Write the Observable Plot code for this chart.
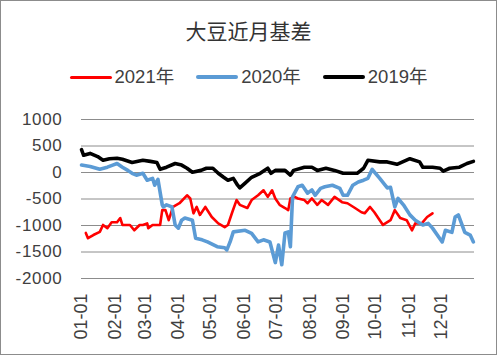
<!DOCTYPE html>
<html>
<head>
<meta charset="utf-8">
<script src="https://cdn.jsdelivr.net/npm/d3@7"></script>
<script src="https://cdn.jsdelivr.net/npm/@observablehq/plot@0.6"></script>
<style>
  html, body { margin: 0; padding: 0; background: #fff; }
  #wrap { position: relative; width: 497px; height: 355px; overflow: hidden; background: #fff; }
  #frame { position: absolute; left: 0; top: 0; width: 497px; height: 355px; box-sizing: border-box; border: 1px solid #8c8c8c; pointer-events: none; }
  #title { position: absolute; left: 0; top: 16px; width: 497px; text-align: center; font-family: "Noto Sans CJK SC", sans-serif; font-size: 21px; color: #333; line-height: 28px; }
  #legend { position: absolute; left: 0; top: 64px; width: 497px; display: flex; justify-content: center; gap: 22px; font-family: "Liberation Sans", "Noto Sans CJK SC", sans-serif; font-size: 18.5px; color: #404040; line-height: 26px; }
  .item { display: flex; align-items: center; }
  .sw { display: inline-block; width: 42px; margin-right: 3px; border-radius: 2px; }
  #chart { position: absolute; left: 0; top: 100px; }
  #chart g[aria-label="y-axis tick label"] text { letter-spacing: 0.7px; }
</style>
</head>
<body>
<div id="wrap">
  <div id="title">大豆近月基差</div>
  <div id="legend"></div>
  <div id="chart"></div>
  <div id="frame"></div>
</div>
<script>
const seriesNames = ["2021年", "2020年", "2019年"];
const seriesColors = ["#ff0000", "#5b9bd5", "#000000"];
const yTicks = [-2000, -1500, -1000, -500, 0, 500, 1000];

const dates2021 = ["01-05","01-07","01-12","01-18","01-21","01-25","01-29","02-03","02-06","02-08","02-15","02-19","02-24","02-27","03-03","03-04","03-08","03-15","03-17","03-20","03-23","03-27","04-02","04-09","04-12","04-15","04-18","04-21","04-26","05-02","05-08","05-14","05-17","05-21","05-25","05-28","06-04","06-08","06-14","06-19","06-23","06-27","06-30","07-04","07-09","07-12","07-14","07-18","07-21","07-27","07-30","08-03","08-08","08-12","08-18","08-24","08-31","09-05","09-12","09-18","09-21","09-26","09-30","10-05","10-08","10-15","10-19","10-24","10-30","11-04","11-07","11-13","11-18","11-23"];
const values2021 = [-1140,-1240,-1180,-1120,-990,-1050,-940,-940,-860,-990,-990,-1090,-990,-990,-960,-1050,-990,-990,-710,-710,-900,-650,-580,-430,-490,-770,-650,-800,-650,-840,-960,-1030,-990,-750,-520,-610,-670,-520,-430,-335,-460,-335,-490,-610,-670,-710,-490,-460,-490,-520,-580,-490,-610,-520,-610,-460,-560,-580,-670,-750,-770,-650,-750,-900,-990,-900,-710,-860,-900,-1090,-960,-960,-840,-770];

const dates2020 = ["01-01","01-09","01-18","01-25","01-30","02-03","02-08","02-13","02-17","02-21","02-27","03-03","03-08","03-10","03-13","03-17","03-18","03-21","03-26","03-29","04-01","04-04","04-07","04-14","04-17","04-23","04-28","05-07","05-14","05-16","05-19","05-22","06-02","06-08","06-14","06-19","06-25","06-30","07-03","07-06","07-09","07-12","07-14","07-16","07-21","07-25","07-30","08-03","08-06","08-11","08-15","08-22","08-29","09-01","09-05","09-10","09-15","09-20","09-24","09-28","10-01","10-05","10-12","10-15","10-19","10-22","10-27","11-02","11-07","11-14","11-19","11-23","12-02","12-05","12-11","12-14","12-17","12-23","12-28","12-31"];
const values2020 = [140,115,60,100,140,170,100,40,-15,-50,-15,-145,-110,-240,-130,-610,-650,-610,-650,-990,-1050,-900,-860,-900,-1240,-1270,-1310,-1400,-1420,-1460,-1310,-1120,-1090,-1150,-1310,-1270,-1310,-1700,-1370,-1740,-1140,-1120,-1400,-460,-270,-240,-390,-330,-430,-300,-270,-240,-300,-430,-430,-240,-180,-145,-110,60,-15,-110,-290,-280,-650,-490,-610,-800,-900,-990,-960,-1050,-1310,-1090,-1130,-840,-800,-1130,-1180,-1310];

const dates2019 = ["01-01","01-03","01-09","01-16","01-21","01-27","02-03","02-08","02-17","02-27","03-06","03-12","03-15","03-21","03-29","04-04","04-09","04-14","04-22","04-27","05-03","05-08","05-13","05-17","05-22","05-26","05-28","06-02","06-08","06-16","06-23","06-26","06-30","07-09","07-14","07-17","07-27","08-03","08-08","08-16","08-24","09-01","09-14","09-20","09-24","10-05","10-12","10-21","11-02","11-11","11-14","11-23","11-30","12-03","12-09","12-18","12-25","12-31"];
const values2019 = [430,325,360,300,230,260,270,250,190,230,210,190,60,100,170,140,80,5,40,80,80,-15,-90,-145,-110,-240,-290,-200,-90,-15,80,-15,40,40,-50,40,100,100,40,80,40,-15,-15,80,230,200,200,155,260,200,100,100,80,25,80,100,170,210];

const parse = s => new Date(Date.UTC(2021, +s.slice(0, 2) - 1, +s.slice(3, 5)));
const build = (dates, values, name) => dates.map((d, i) => ({date: parse(d), value: values[i], series: name}));
const d2021 = build(dates2021, values2021, seriesNames[0]);
const d2020 = build(dates2020, values2020, seriesNames[1]);
const d2019 = build(dates2019, values2019, seriesNames[2]);

const monthTicks = d3.utcMonth.range(new Date(Date.UTC(2021, 0, 1)), new Date(Date.UTC(2022, 0, 1)));

// legend
const legend = document.getElementById("legend");
seriesNames.forEach((n, i) => {
  const it = document.createElement("div");
  it.className = "item";
  const sw = document.createElement("span");
  sw.className = "sw";
  sw.style.background = seriesColors[i];
  sw.style.height = i === 0 ? "3px" : "4px";
  const t = document.createElement("span");
  t.textContent = n;
  it.appendChild(sw); it.appendChild(t);
  legend.appendChild(it);
});

const chart = Plot.plot({
  width: 497,
  height: 255,
  marginTop: 19,
  marginBottom: 77,
  marginLeft: 81,
  marginRight: 23,
  style: {fontFamily: "Liberation Sans, Arial, sans-serif", color: "#404040", background: "transparent", overflow: "visible"},
  x: {type: "utc", domain: [new Date(Date.UTC(2021, 0, 1)), new Date(Date.UTC(2022, 0, 1))]},
  y: {domain: [-2000, 1000]},
  marks: [
    Plot.gridY(yTicks, {stroke: "#8c8c8c", strokeOpacity: 1, strokeWidth: 1}),
    Plot.axisY(yTicks, {tickSize: 0, tickPadding: 19, tickFormat: d => String(d), fontSize: 17, label: null, fill: "#404040"}),
    Plot.axisX(monthTicks, {tickSize: 0, tickPadding: 15, tickRotate: -90, tickFormat: d3.utcFormat("%m-%d"), fontSize: 18, label: null, fill: "#404040"}),
    Plot.line(d2021, {x: "date", y: "value", stroke: seriesColors[0], strokeWidth: 2.6}),
    Plot.line(d2020, {x: "date", y: "value", stroke: seriesColors[1], strokeWidth: 3.6}),
    Plot.line(d2019, {x: "date", y: "value", stroke: seriesColors[2], strokeWidth: 3.6})
  ]
});
document.getElementById("chart").appendChild(chart);
</script>
</body>
</html>
